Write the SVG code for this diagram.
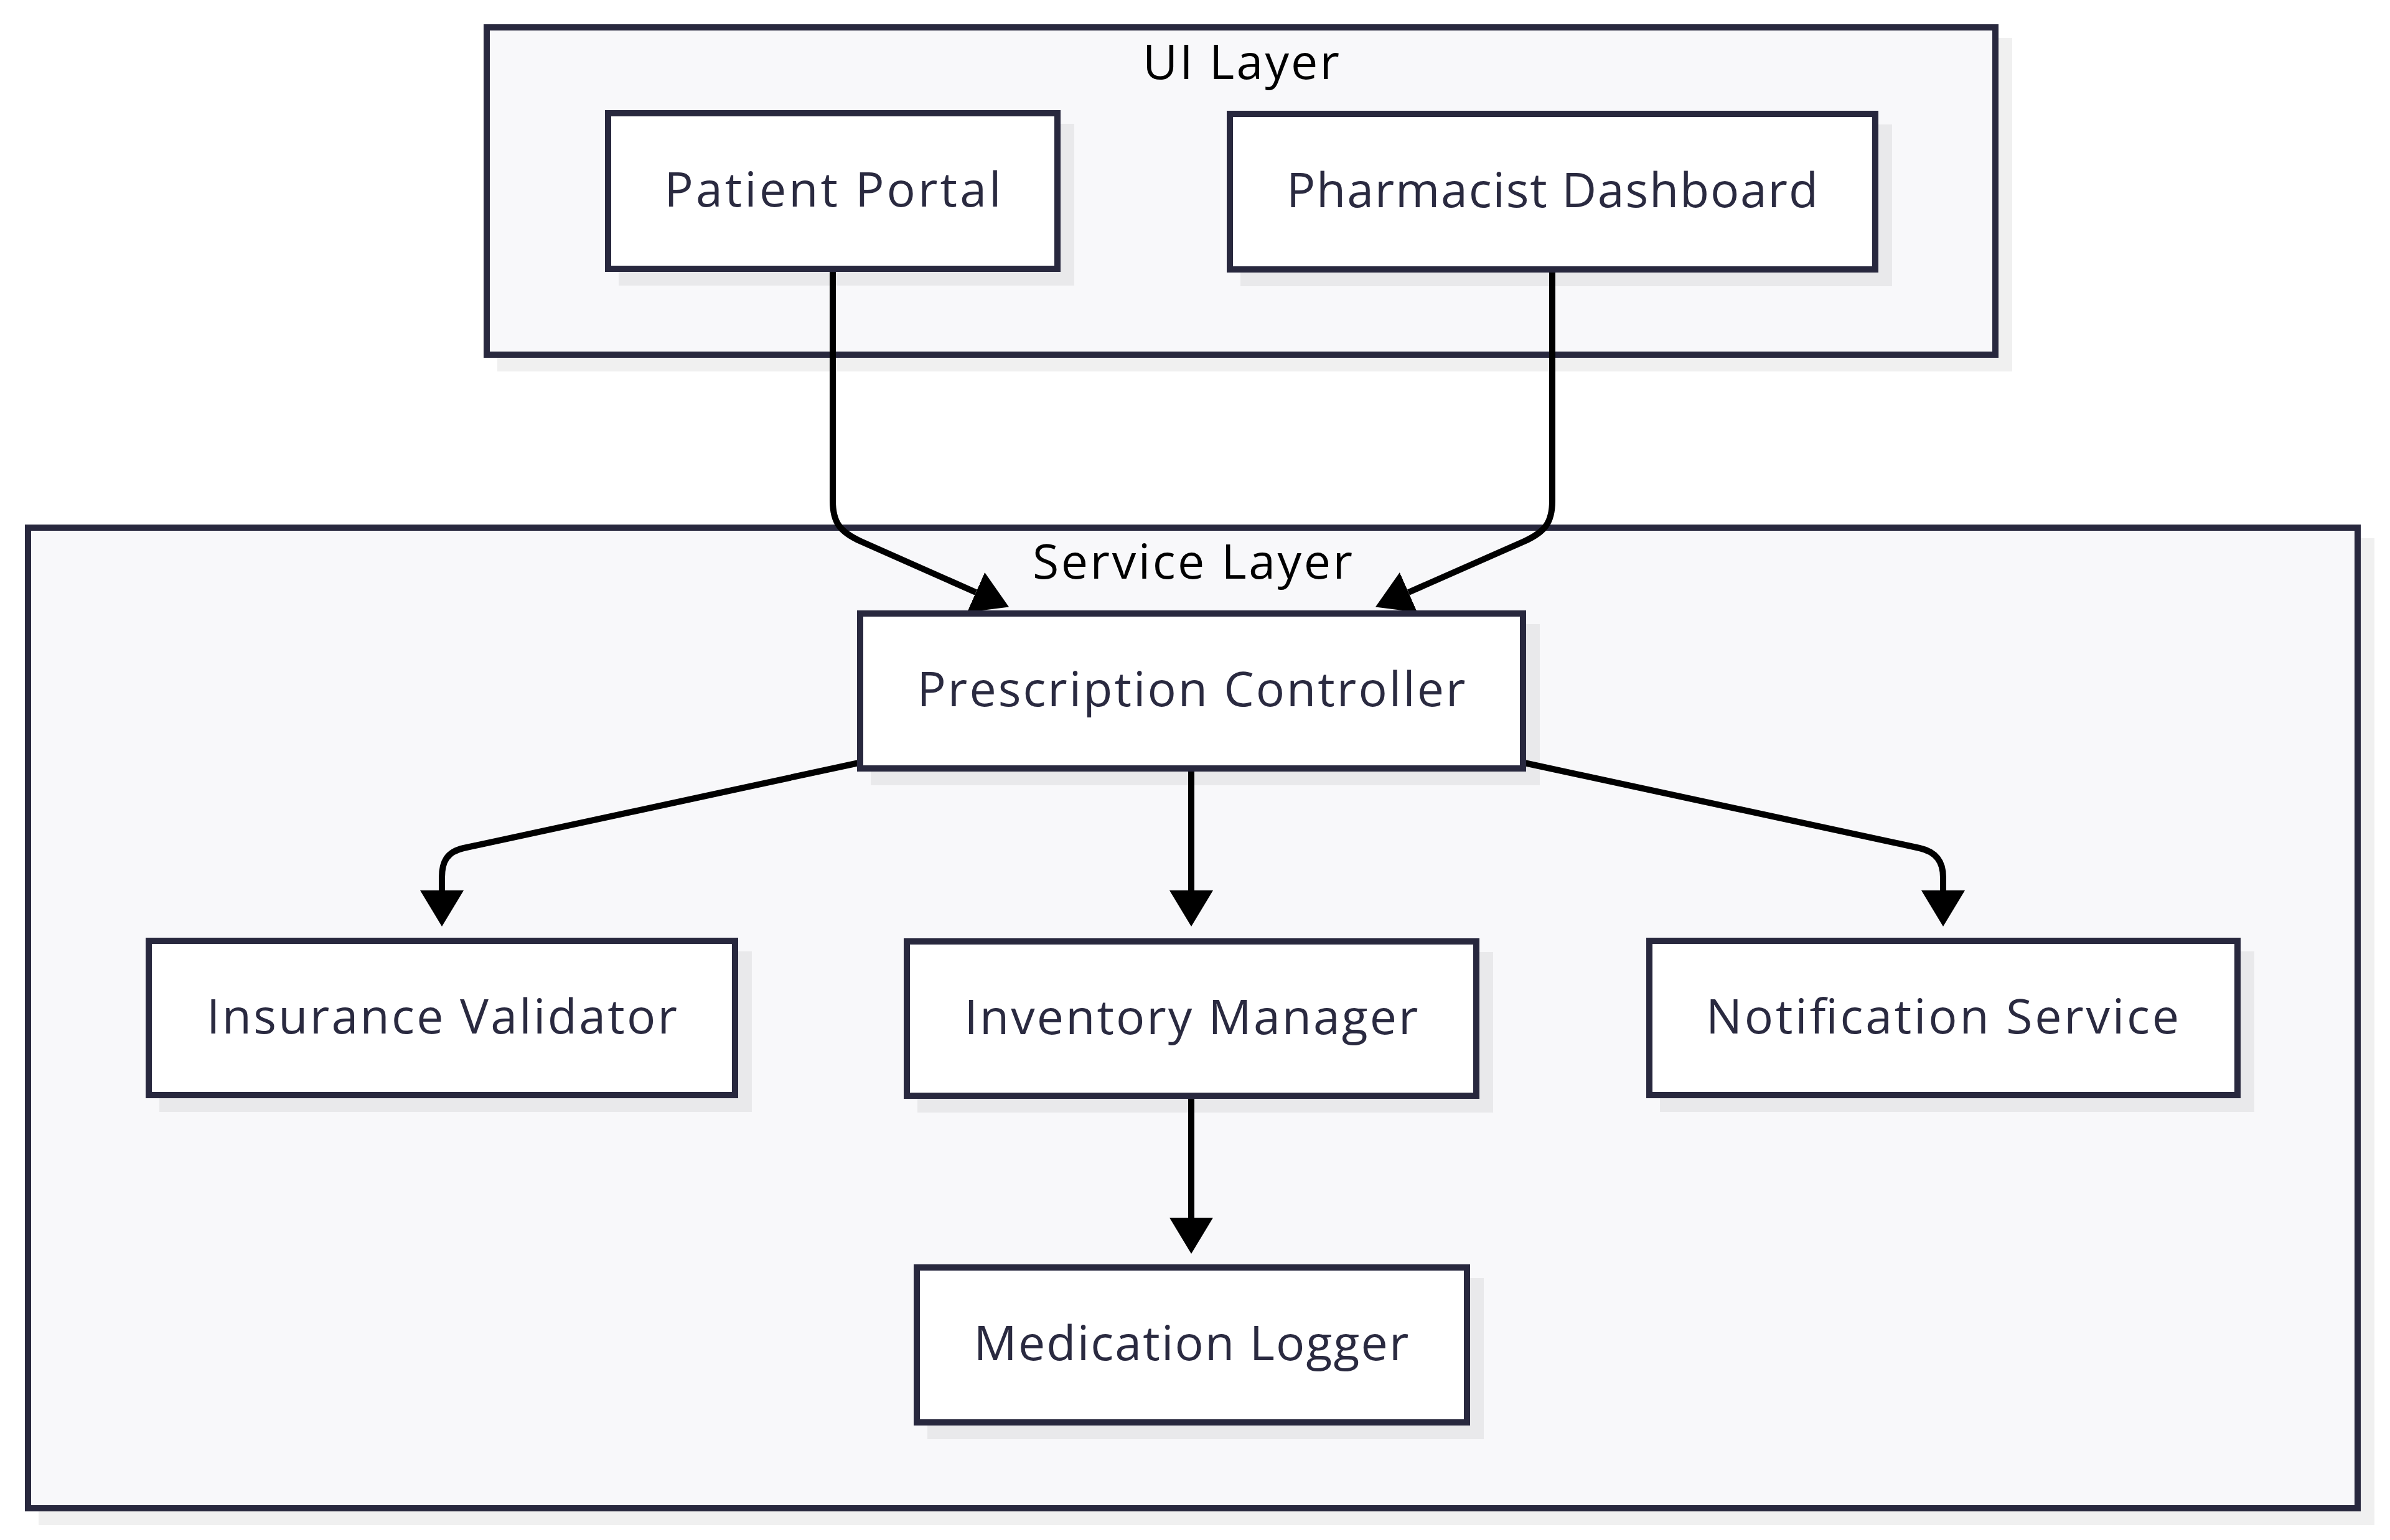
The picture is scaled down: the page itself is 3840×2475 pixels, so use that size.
<svg xmlns="http://www.w3.org/2000/svg" width="3840" height="2475" viewBox="0 0 3840 2475">
  <style>
    .cluster { fill: #f8f8fa; stroke: #28283e; stroke-width: 10; }
    .node { fill: #ffffff; stroke: #28283e; stroke-width: 10; }
    .shadow { fill: #000000; fill-opacity: 0.06; stroke: none; }
    .title { font-family: "Open Sans", "Noto Sans", sans-serif; font-size: 77px; fill: #000000; text-anchor: middle; }
    .label { font-family: "Open Sans", "Noto Sans", sans-serif; font-size: 77px; fill: #2a2a40; text-anchor: middle; }
    .edge { fill: none; stroke: #000000; stroke-width: 10; }
  </style>
  <defs>
    <marker id="arrow" markerUnits="userSpaceOnUse" viewBox="0 0 58 70" refX="0" refY="35" markerWidth="58" markerHeight="70" orient="auto">
      <path d="M0,0 L58,35 L0,70 Z" fill="#000000"/>
    </marker>
  </defs>
  <rect width="3840" height="2475" fill="#ffffff"/>

  <g id="cluster-ui">
    <rect class="shadow" x="799" y="61" width="2434" height="536"/>
    <rect class="cluster" x="782" y="44" width="2424" height="526"/>
    <text class="title" x="1994" y="127" textLength="316">UI Layer</text>
  </g>
  <g id="cluster-service">
    <rect class="shadow" x="62" y="865" width="3753" height="1586"/>
    <rect class="cluster" x="45" y="848" width="3743" height="1576"/>
    <text class="title" x="1916" y="930" textLength="514">Service Layer</text>
  </g>

  <g id="edges">
    <path class="edge" d="M1338,437 L1338,805 C1338,840 1350,855 1383,870 L1568,952" marker-end="url(#arrow)"/>
    <path class="edge" d="M2494,438 L2494,805 C2494,840 2482,855 2449,870 L2263,952" marker-end="url(#arrow)"/>
    <path class="edge" d="M1380,1226 L745,1363 C718,1369 710,1385 710,1410 L710,1431" marker-end="url(#arrow)"/>
    <path class="edge" d="M1914,1240 L1914,1431" marker-end="url(#arrow)"/>
    <path class="edge" d="M2449,1226 L3084,1363 C3111,1369 3122,1385 3122,1410 L3122,1431" marker-end="url(#arrow)"/>
    <path class="edge" d="M1914,1765 L1914,1957" marker-end="url(#arrow)"/>
  </g>

  <g id="node-patient-portal">
    <rect class="shadow" x="994" y="199" width="732" height="260"/>
    <rect class="node" x="977" y="182" width="722" height="250"/>
    <text class="label" x="1338" y="332" textLength="541">Patient Portal</text>
  </g>
  <g id="node-pharmacist-dashboard">
    <rect class="shadow" x="1993" y="200" width="1047" height="260"/>
    <rect class="node" x="1976" y="183" width="1037" height="250"/>
    <text class="label" x="2494" y="333" textLength="854">Pharmacist Dashboard</text>
  </g>
  <g id="node-prescription-controller">
    <rect class="shadow" x="1399" y="1003" width="1075" height="259"/>
    <rect class="node" x="1382" y="986" width="1065" height="249"/>
    <text class="label" x="1914" y="1135" textLength="881">Prescription Controller</text>
  </g>
  <g id="node-insurance-validator">
    <rect class="shadow" x="256" y="1529" width="952" height="258"/>
    <rect class="node" x="239" y="1512" width="942" height="248"/>
    <text class="label" x="710" y="1661" textLength="756">Insurance Validator</text>
  </g>
  <g id="node-inventory-manager">
    <rect class="shadow" x="1474" y="1530" width="925" height="258"/>
    <rect class="node" x="1457" y="1513" width="915" height="248"/>
    <text class="label" x="1914" y="1662" textLength="729">Inventory Manager</text>
  </g>
  <g id="node-notification-service">
    <rect class="shadow" x="2667" y="1529" width="955" height="258"/>
    <rect class="node" x="2650" y="1512" width="945" height="248"/>
    <text class="label" x="3121" y="1661" textLength="760">Notification Service</text>
  </g>
  <g id="node-medication-logger">
    <rect class="shadow" x="1490" y="2054" width="894" height="259"/>
    <rect class="node" x="1473" y="2037" width="884" height="249"/>
    <text class="label" x="1914" y="2186" textLength="699">Medication Logger</text>
  </g>
</svg>
